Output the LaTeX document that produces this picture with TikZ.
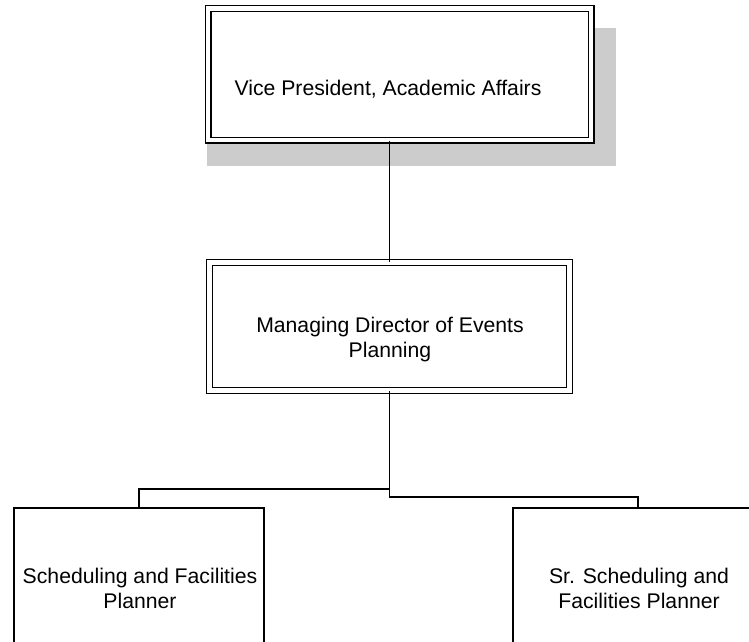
\documentclass[tikz,border=0pt]{standalone}
\usepackage{fontspec}
\setmainfont{Liberation Sans}
\tikzset{
  post/.style={draw, double, line width=0.6pt, double distance=2.3pt, fill=white, inner sep=0pt},
  plainpost/.style={draw, line width=0.65pt, fill=white, inner sep=0pt, minimum width=125pt, minimum height=125pt},
  posttext/.style={align=center, inner sep=0pt, font=\fontsize{10.6}{12.5}\selectfont},
  link/.style={line width=0.6pt}
}
\begin{document}
\begin{tikzpicture}[x=0.5pt, y=-0.5pt]
   \useasboundingbox (0,0) rectangle (749,642);
   \clip (0,0) rectangle (749,642);
   \fill[black!20] (207,28) rectangle (616,166);
   \node[post, minimum width=191.5pt, minimum height=65.75pt] (vp) at (399.5,74.25) {};
   \node[post, minimum width=180pt, minimum height=64pt] (md) at (389.5,326.5) {};
   \node[plainpost] (sfp) at (139,633) {};
   \node[plainpost] (ssfp) at (638,633) {};
   \node[posttext] (vpText) at (388,89) {Vice President, Academic Affairs};
   \node[posttext] (mdText) at (390,340) {Managing Director of Events\\Planning};
   \node[posttext] (sfpText) at (140,588) {Scheduling and Facilities\\Planner};
   \node[posttext] (ssfpText) at (639,588) {Sr. Scheduling and\\Facilities Planner};
   \coordinate (forkL) at (389.5,489);
   \coordinate (forkR) at (389.5,497);
   \draw[link] (md.north) -- (vp.south -| md.north);
   \draw[link] (md.south) -- (forkL) -| (sfp.north);
   \draw[link] (forkL) -- (forkR) -| (ssfp.north);
\end{tikzpicture}
\end{document}
